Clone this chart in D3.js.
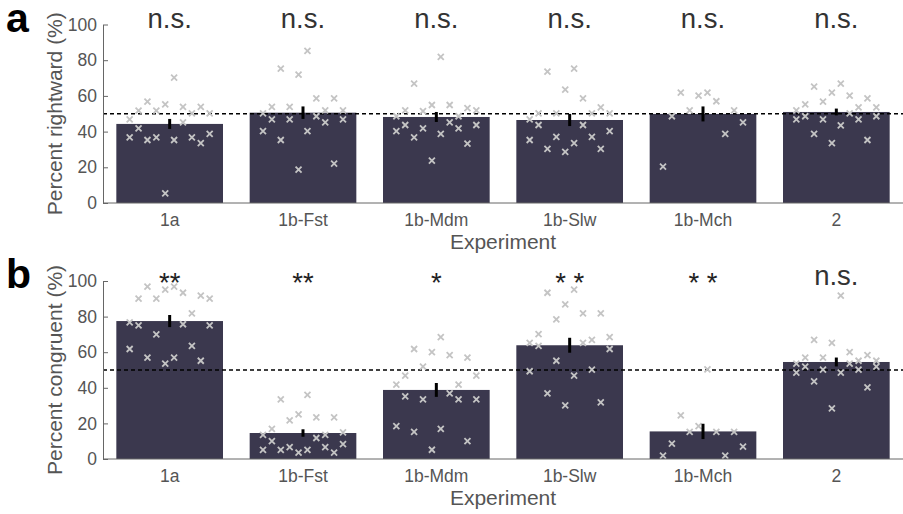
<!DOCTYPE html>
<html>
<head>
<meta charset="utf-8">
<script src="https://cdn.jsdelivr.net/npm/d3@7"></script>
<style>
  body { margin: 0; background: #fff; }
  text { font-family: "Liberation Sans", Arial, sans-serif; }
</style>
</head>
<body>
<div id="chart"></div>
<script>
const experiments = ["1a", "1b-Fst", "1b-Mdm", "1b-Slw", "1b-Mch", "2"];
const yTicks = [0, 20, 40, 60, 80, 100];

// panel a: percent rightward
const rightwardMean = [44.3, 50.6, 48.2, 46.5, 49.9, 51.0];
const rightwardSem = [2.8, 3.5, 2.8, 3.4, 4.2, 1.9];
const rightwardSig = ["n.s.", "n.s.", "n.s.", "n.s.", "n.s.", "n.s."];
const rightward1a = [46.9, 36.8, 51.7, 41.8, 56.8, 35.3, 51.7, 36.8, 55.3, 5.4, 70.2, 35.3, 53.8, 45.2, 50.2, 36.8, 53.8, 33.6, 50.2, 38.7];
const rightwardFst = [50.2, 40.3, 53.8, 46.9, 75.3, 35.3, 53.8, 46.9, 71.9, 18.7, 85.2, 40.3, 58.6, 48.6, 51.9, 45.2, 58.6, 22.0, 51.9, 46.9];
const rightwardMdm = [48.6, 40.3, 51.9, 43.7, 66.9, 36.8, 51.5, 41.8, 54.9, 23.7, 81.8, 38.7, 54.9, 45.2, 48.6, 41.8, 53.2, 33.2, 51.9, 43.7];
const rightwardSlw = [46.9, 35.3, 50.2, 43.7, 73.6, 30.3, 50.2, 37.0, 63.5, 28.6, 75.3, 33.6, 58.6, 43.7, 50.2, 37.0, 53.6, 30.3, 50.2, 40.3];
const rightwardMch = [20.4, 48.6, 61.8, 51.9, 60.1, 61.8, 57.0, 38.7, 51.9, 45.2];
const rightward2 = [51.9, 46.9, 55.3, 48.6, 65.2, 38.7, 56.8, 46.9, 61.8, 33.6, 66.9, 43.5, 60.1, 50.2, 53.6, 46.9, 58.6, 35.3, 53.6, 48.6];

// panel b: percent congruent
const congruentMean = [77.5, 14.6, 38.8, 63.9, 15.5, 54.5];
const congruentSem = [3.4, 2.1, 3.9, 4.2, 4.3, 2.5];
const congruentSig = ["**", "**", "*", "* *", "* *", "n.s."];
const congruent1a = [76.8, 61.8, 90.1, 75.1, 96.8, 56.9, 90.1, 70.0, 95.1, 53.6, 96.8, 56.9, 93.4, 75.7, 81.8, 63.5, 91.8, 55.2, 90.1, 75.1];
const congruentFst = [13.5, 5.1, 16.9, 10.1, 33.5, 5.1, 21.7, 6.7, 25.1, 3.6, 36.0, 5.1, 23.4, 11.8, 13.5, 6.7, 23.4, 3.6, 15.0, 8.4];
const congruentMdm = [41.8, 18.5, 46.8, 35.2, 61.8, 15.2, 51.9, 33.5, 60.1, 5.2, 68.5, 16.9, 58.4, 36.9, 41.8, 33.5, 56.9, 10.1, 46.8, 33.5];
const congruentSlw = [65.2, 49.3, 70.2, 63.5, 93.4, 36.9, 78.5, 55.2, 86.9, 30.1, 95.1, 46.8, 81.8, 65.2, 66.9, 50.2, 81.8, 31.8, 68.5, 61.8];
const congruentMch = [1.9, 8.6, 24.5, 15.2, 18.5, 50.4, 15.2, 1.9, 15.2, 6.9];
const congruent2 = [53.6, 48.5, 56.9, 51.9, 66.9, 43.6, 56.9, 50.2, 65.2, 28.5, 91.8, 48.5, 60.1, 53.6, 55.2, 50.2, 58.4, 40.2, 55.2, 51.9];

const chance = 50;

const width = 903, height = 514;
const barColor = "#3b384e";
const axisColor = "#666";
const pointColor = "#c4c4c4";

var svg = d3.select("#chart").append("svg")
  .attr("width", width)
  .attr("height", height);

var x = d3.scaleLinear().domain([0.5, experiments.length + 0.5]).range([103, 903]);

function drawPanel(opts) {
  var y = d3.scaleLinear().domain([0, 100]).range([opts.bottom, opts.top]);
  var g = svg.append("g");
  var barW = x(0.8) - x(0);

  // bars
  g.selectAll(".bar")
    .data(opts.means)
    .enter().append("rect")
    .attr("x", (d, i) => x(i + 1) - barW / 2)
    .attr("width", barW)
    .attr("y", d => y(d))
    .attr("height", d => y(0) - y(d))
    .attr("fill", barColor);

  // chance line
  g.append("line")
    .attr("x1", x.range()[0]).attr("x2", x.range()[1])
    .attr("y1", y(chance)).attr("y2", y(chance))
    .attr("stroke", "#000")
    .attr("stroke-width", 1.3)
    .attr("stroke-dasharray", "4,3");

  // individual participants, spread over 10 columns inside each bar
  opts.points.forEach(function (vals, i) {
    var n = vals.length;
    vals.forEach(function (v, j) {
      var slot = Math.floor(j * 10 / n);
      var cx = x(i + 1 - 0.3 + slot * 0.6 / 9);
      var cy = y(v);
      var s = 3;
      g.append("path")
        .attr("d", "M" + (cx - s) + "," + (cy - s) + "L" + (cx + s) + "," + (cy + s) +
                   "M" + (cx - s) + "," + (cy + s) + "L" + (cx + s) + "," + (cy - s))
        .attr("stroke", pointColor)
        .attr("stroke-width", 1.8)
        .attr("fill", "none");
    });
  });

  // error bars (sem)
  g.selectAll(".err")
    .data(opts.means)
    .enter().append("line")
    .attr("x1", (d, i) => x(i + 1)).attr("x2", (d, i) => x(i + 1))
    .attr("y1", (d, i) => y(d - opts.sems[i]))
    .attr("y2", (d, i) => y(d + opts.sems[i]))
    .attr("stroke", "#000")
    .attr("stroke-width", 3);

  // axes
  var yAxis = d3.axisLeft(y).tickValues(yTicks).tickSizeInner(-5).tickSizeOuter(0).tickPadding(6);
  var ya = g.append("g")
    .attr("transform", "translate(" + x.range()[0] + ",0)")
    .call(yAxis);
  ya.select(".domain").attr("stroke", axisColor);
  ya.selectAll(".tick line").attr("stroke", axisColor);
  ya.selectAll(".tick text")
    .attr("fill", "#555")
    .style("font-size", "17.5px")
    .style("font-family", "'Liberation Sans', Arial, sans-serif");

  g.append("line")
    .attr("x1", x.range()[0]).attr("x2", x.range()[1])
    .attr("y1", y(0)).attr("y2", y(0))
    .attr("stroke", axisColor);

  g.selectAll(".xlab")
    .data(experiments)
    .enter().append("text")
    .attr("x", (d, i) => x(i + 1))
    .attr("y", y(0) + 22.5)
    .attr("text-anchor", "middle")
    .attr("fill", "#555")
    .style("font-size", "17.5px")
    .text(d => d);

  g.append("text")
    .attr("x", (x.range()[0] + x.range()[1]) / 2)
    .attr("y", y(0) + 46)
    .attr("text-anchor", "middle")
    .attr("fill", "#555")
    .style("font-size", "21px")
    .text("Experiment");

  g.append("text")
    .attr("transform", "translate(62," + (y(0) + y(100)) / 2 + ") rotate(-90)")
    .attr("text-anchor", "middle")
    .attr("fill", "#555")
    .style("font-size", "21px")
    .text(opts.ylabel);

  // significance
  g.selectAll(".sig")
    .data(opts.sig)
    .enter().append("text")
    .attr("x", (d, i) => x(i + 1))
    .attr("y", d => d === "n.s." ? y(98) : y(98) + 7.5)
    .attr("text-anchor", "middle")
    .attr("fill", d => d === "n.s." ? "#333" : "#222")
    .style("font-size", "27.5px")
    .text(d => d);

  // panel letter
  g.append("text")
    .attr("x", 6)
    .attr("y", opts.letterY)
    .attr("fill", "#000")
    .style("font-size", "41px")
    .style("font-weight", "bold")
    .text(opts.letter);
}

drawPanel({
  top: 24.5, bottom: 203,
  means: rightwardMean, sems: rightwardSem, sig: rightwardSig,
  points: [rightward1a, rightwardFst, rightwardMdm, rightwardSlw, rightwardMch, rightward2],
  ylabel: "Percent rightward (%)",
  letter: "a", letterY: 32
});

drawPanel({
  top: 281, bottom: 459,
  means: congruentMean, sems: congruentSem, sig: congruentSig,
  points: [congruent1a, congruentFst, congruentMdm, congruentSlw, congruentMch, congruent2],
  ylabel: "Percent congruent (%)",
  letter: "b", letterY: 288
});
</script>
</body>
</html>
